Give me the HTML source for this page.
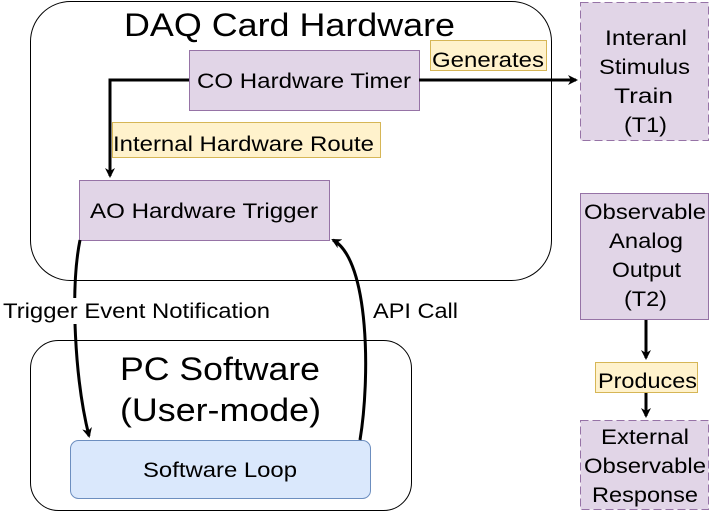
<!DOCTYPE html>
<html><head><style>
body{margin:0;width:711px;height:511px;background:#fff;overflow:hidden;font-family:"Liberation Sans",Arial,sans-serif}
</style></head><body>
<svg width="711" height="511" xmlns="http://www.w3.org/2000/svg" font-family="Liberation Sans, Arial, sans-serif">
<defs><marker id="a" markerWidth="10" markerHeight="10" refX="8" refY="5" orient="auto" markerUnits="userSpaceOnUse"><path d="M0,0 L10,5 L0,10 L3,5 Z" fill="#000"/></marker></defs>
<rect x="30.5" y="1.5" width="521" height="279" rx="40" fill="#fff" stroke="#000"/>
<text x="124" y="36" font-size="32" textLength="331" lengthAdjust="spacingAndGlyphs">DAQ Card Hardware</text>
<rect x="30.5" y="340.5" width="381" height="170" rx="28" fill="#fff" stroke="#000"/>
<text x="120" y="380" font-size="32" textLength="200" lengthAdjust="spacingAndGlyphs">PC Software</text>
<text x="120" y="421" font-size="32" textLength="201" lengthAdjust="spacingAndGlyphs">(User-mode)</text>
<rect x="189.5" y="50.5" width="230" height="60" fill="#e1d5e7" stroke="#9673a6"/>
<text x="197" y="88" font-size="21" textLength="214" lengthAdjust="spacingAndGlyphs">CO Hardware Timer</text>
<rect x="79.5" y="180.5" width="250" height="60" fill="#e1d5e7" stroke="#9673a6"/>
<text x="90" y="218" font-size="21" textLength="228" lengthAdjust="spacingAndGlyphs">AO Hardware Trigger</text>
<rect x="70.5" y="440.5" width="300" height="58" rx="8" fill="#dae8fc" stroke="#6c8ebf"/>
<text x="143" y="477" font-size="21" textLength="154" lengthAdjust="spacingAndGlyphs">Software Loop</text>
<path d="M189,80 H110 V176" fill="none" stroke="#000" stroke-width="3" marker-end="url(#a)"/>
<rect x="112.5" y="122.5" width="268" height="35" fill="#fff2cc" stroke="#d6b656"/>
<text x="113" y="151" font-size="21" textLength="261" lengthAdjust="spacingAndGlyphs">Internal Hardware Route</text>
<path d="M419,80 H576" fill="none" stroke="#000" stroke-width="3" marker-end="url(#a)"/>
<rect x="430.5" y="40.5" width="116" height="30" fill="#fff2cc" stroke="#d6b656"/>
<text x="432" y="67" font-size="21" textLength="112" lengthAdjust="spacingAndGlyphs">Generates</text>
<rect x="580.5" y="2.5" width="128" height="138" fill="#e1d5e7" stroke="#9673a6" stroke-dasharray="8 4"/>
<g font-size="21" lengthAdjust="spacingAndGlyphs">
<text x="605" y="45" textLength="82" lengthAdjust="spacingAndGlyphs">Interanl</text>
<text x="599" y="74" textLength="91" lengthAdjust="spacingAndGlyphs">Stimulus</text>
<text x="614" y="103" textLength="59" lengthAdjust="spacingAndGlyphs">Train</text>
<text x="624" y="132" textLength="43" lengthAdjust="spacingAndGlyphs">(T1)</text>
</g>
<rect x="580.5" y="193.5" width="128" height="126" fill="#e1d5e7" stroke="#9673a6"/>
<g font-size="21">
<text x="584" y="219" textLength="122" lengthAdjust="spacingAndGlyphs">Observable</text>
<text x="609" y="248" textLength="74" lengthAdjust="spacingAndGlyphs">Analog</text>
<text x="612" y="277" textLength="69" lengthAdjust="spacingAndGlyphs">Output</text>
<text x="624" y="306" textLength="43" lengthAdjust="spacingAndGlyphs">(T2)</text>
</g>
<path d="M646,320 V358" fill="none" stroke="#000" stroke-width="3" marker-end="url(#a)"/>
<path d="M646,392 V416" fill="none" stroke="#000" stroke-width="3" marker-end="url(#a)"/>
<rect x="595.5" y="362.5" width="102" height="30" fill="#fff2cc" stroke="#d6b656"/>
<text x="598" y="388" font-size="21" textLength="99" lengthAdjust="spacingAndGlyphs">Produces</text>
<rect x="580.5" y="420.5" width="128" height="89" fill="#e1d5e7" stroke="#9673a6" stroke-dasharray="8 4"/>
<g font-size="21">
<text x="601" y="444" textLength="88" lengthAdjust="spacingAndGlyphs">External</text>
<text x="584" y="473" textLength="122" lengthAdjust="spacingAndGlyphs">Observable</text>
<text x="592" y="502" textLength="106" lengthAdjust="spacingAndGlyphs">Response</text>
</g>
<path d="M80,240 C70,290 75,380 89,436" fill="none" stroke="#000" stroke-width="3" marker-end="url(#a)"/>
<path d="M360,440 C370,380 370,260 333,240" fill="none" stroke="#000" stroke-width="3" marker-end="url(#a)"/>
<rect x="2" y="298" width="270" height="26" fill="#fff"/>
<text x="3" y="318" font-size="21" textLength="267" lengthAdjust="spacingAndGlyphs">Trigger Event Notification</text>
<rect x="370" y="298" width="90" height="26" fill="#fff"/>
<text x="373" y="318" font-size="21" textLength="85" lengthAdjust="spacingAndGlyphs">API Call</text>
</svg>
</body></html>
